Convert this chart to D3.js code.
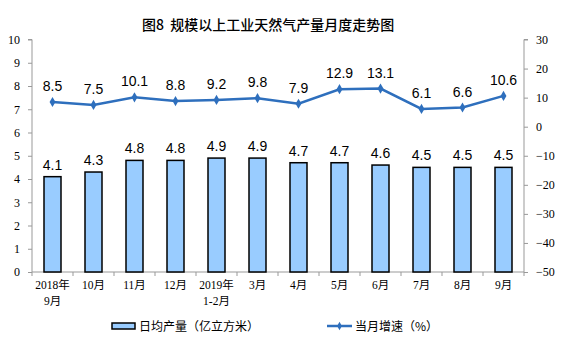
<!DOCTYPE html>
<html><head><meta charset="utf-8">
<script src="https://cdn.jsdelivr.net/npm/d3@7"></script>
<style>body{margin:0;background:#fff}svg{display:block}</style>
</head><body>
<script>
const categories = [["2018年","9月"],["10月"],["11月"],["12月"],["2019年","1-2月"],["3月"],["4月"],["5月"],["6月"],["7月"],["8月"],["9月"]];
const output = [4.1,4.3,4.8,4.8,4.9,4.9,4.7,4.7,4.6,4.5,4.5,4.5];
const growth = [8.5,7.5,10.1,8.8,9.2,9.8,7.9,12.9,13.1,6.1,6.6,10.6];
const leftTicks = [0,1,2,3,4,5,6,7,8,9,10];
const rightTicks = [-50,-40,-30,-20,-10,0,10,20,30];
const title = "图8  规模以上工业天然气产量月度走势图";
const legendBar = "日均产量（亿立方米）";
const legendLine = "当月增速（%）";

const W=561,H=357;
const svg=d3.select("body").append("svg").attr("width",W).attr("height",H);
const L=32,R=524,T=39.5,B=272;
const x=d3.scaleBand().domain(d3.range(categories.length)).range([L,R]);
const yL=d3.scaleLinear().domain([0,10]).range([B,T]);
const yR=d3.scaleLinear().domain([-50,30]).range([B,T]);
const serif="'Liberation Serif','Times New Roman',serif";
const sans="'Liberation Sans',Arial,sans-serif";
const cjk="'Noto Sans CJK SC',sans-serif";

svg.append("text").attr("x",142).attr("y",30).attr("text-anchor","start").style("white-space","pre")
 .attr("font-family",cjk).attr("font-size",14).attr("font-weight",500).attr("fill","#000").text(title);

const axisColor="#999";
// left axis
const la=svg.append("g").attr("transform",`translate(${L},0)`)
 .call(d3.axisLeft(yL).tickValues(leftTicks).tickSize(4).tickPadding(8));
la.selectAll("path,line").attr("stroke",axisColor);
la.selectAll("text").attr("font-family",serif).attr("font-size",12).attr("fill","#000");
la.select(".domain").attr("d",`M-4,${T}H0V${B}`);
// right axis
const ra=svg.append("g").attr("transform",`translate(${R},0)`)
 .call(d3.axisRight(yR).tickValues(rightTicks).tickSize(4).tickPadding(8));
ra.selectAll("path,line").attr("stroke",axisColor);
ra.selectAll("text").attr("font-family",serif).attr("font-size",12).attr("fill","#000");
ra.select(".domain").attr("d",`M4,${T}H0V${B}`);
// bottom axis
const bg=svg.append("g");
bg.append("line").attr("x1",L).attr("x2",R).attr("y1",B).attr("y2",B).attr("stroke",axisColor);
d3.range(categories.length+1).forEach(i=>{
  const xx = i<categories.length? x(i): R;
  bg.append("line").attr("x1",xx).attr("x2",xx).attr("y1",B).attr("y2",B+4).attr("stroke",axisColor);
});
categories.forEach((c,i)=>{
  c.forEach((s,j)=>{
    bg.append("text").attr("x",x(i)+x.bandwidth()/2).attr("y",B+17+j*16).attr("text-anchor","middle")
     .attr("font-family",serif+","+cjk).attr("font-size",11.5).attr("fill","#000").text(s);
  });
});

// bars
const bw=17;
svg.selectAll("rect.bar").data(output).join("rect").attr("class","bar")
 .attr("x",(d,i)=>x(i)+x.bandwidth()/2-bw/2).attr("width",bw)
 .attr("y",d=>yL(d)).attr("height",d=>B-yL(d))
 .attr("fill","#99ccff").attr("stroke","#000").attr("stroke-width",1.5);
svg.selectAll("text.bl").data(output).join("text").attr("class","bl")
 .attr("x",(d,i)=>x(i)+x.bandwidth()/2).attr("y",d=>yL(d)-7).attr("text-anchor","middle")
 .attr("font-family",sans).attr("font-size",14).attr("fill","#000").text(d=>d.toFixed(1));

// line
const lineColor="#2e6fbd";
const line=d3.line().x((d,i)=>x(i)+x.bandwidth()/2).y(d=>yR(d));
svg.append("path").datum(growth).attr("d",line).attr("fill","none").attr("stroke",lineColor).attr("stroke-width",2.5);
svg.selectAll("path.mk").data(growth).join("path").attr("class","mk")
 .attr("d",d3.symbol(d3.symbolDiamond,30)())
 .attr("transform",(d,i)=>`translate(${x(i)+x.bandwidth()/2},${yR(d)})`).attr("fill",lineColor);
svg.selectAll("text.ll").data(growth).join("text").attr("class","ll")
 .attr("x",(d,i)=>x(i)+x.bandwidth()/2).attr("y",d=>yR(d)-11).attr("text-anchor","middle")
 .attr("font-family",sans).attr("font-size",14).attr("fill","#000").text(d=>d.toFixed(1));

// legend
const ly=326;
svg.append("rect").attr("x",112).attr("y",ly-3).attr("width",23).attr("height",6)
 .attr("fill","#99ccff").attr("stroke","#000").attr("stroke-width",1.5);
svg.append("text").attr("x",139).attr("y",ly+4.5).attr("font-family",cjk).attr("font-size",12).attr("fill","#000").text(legendBar);
svg.append("line").attr("x1",327).attr("x2",352).attr("y1",ly).attr("y2",ly).attr("stroke",lineColor).attr("stroke-width",2.5);
svg.append("path").attr("d",d3.symbol(d3.symbolDiamond,20)()).attr("transform",`translate(339.5,${ly})`).attr("fill",lineColor);
svg.append("text").attr("x",355).attr("y",ly+4.5).attr("font-family",cjk).attr("font-size",12).attr("fill","#000").text(legendLine);
</script>
</body></html>
